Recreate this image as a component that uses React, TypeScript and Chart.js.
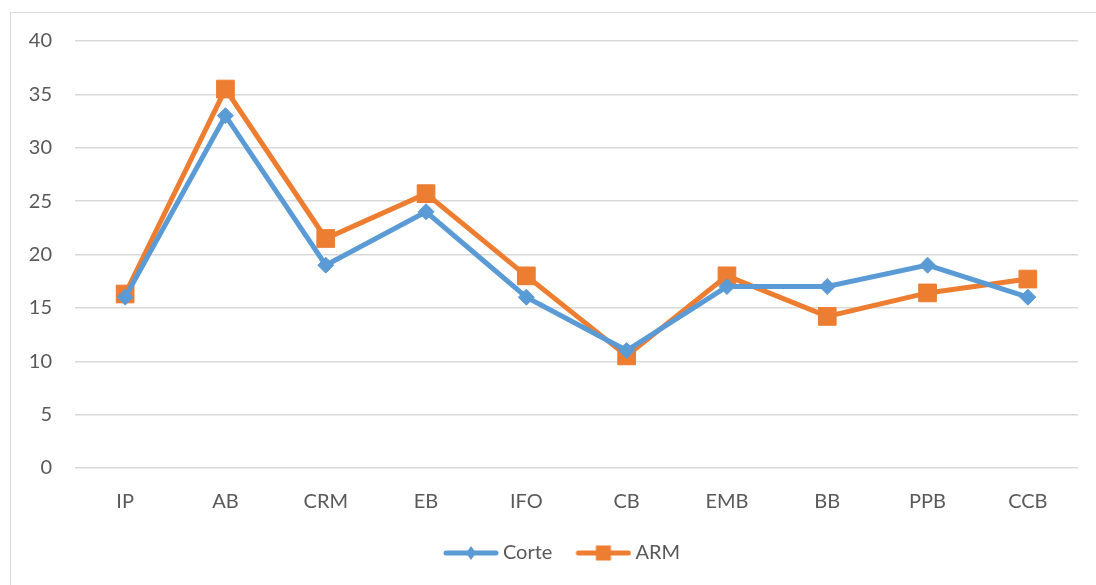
import React, { useEffect, useRef } from "react";
import { Chart, registerables } from "chart.js";

Chart.register(...registerables);

const categories = ["IP", "AB", "CRM", "EB", "IFO", "CB", "EMB", "BB", "PPB", "CCB"];
const corteValues = [16, 33, 19, 24, 16, 11, 17, 17, 19, 16];
const armValues = [16.3, 35.5, 21.5, 25.7, 18, 10.5, 18, 14.2, 16.4, 17.7];
const seriesNames = ["Corte", "ARM"];

const BLUE = "#5B9BD5";
const ORANGE = "#ED7D31";
const FONT = "Lato, 'Open Sans', sans-serif";
const TEXT = "#595959";

// legend icon: 80px wide canvas, visible line+marker in its right 56px
function makeLegendIcon(color: string, marker: "diamond" | "square") {
  const c = document.createElement("canvas");
  c.width = 80;
  c.height = 20;
  const ctx = c.getContext("2d")!;
  const x0 = 24;
  ctx.strokeStyle = color;
  ctx.lineWidth = 5;
  ctx.lineCap = "round";
  ctx.beginPath();
  ctx.moveTo(x0 + 3, 10);
  ctx.lineTo(x0 + 53, 10);
  ctx.stroke();
  ctx.fillStyle = color;
  const cx = x0 + 28;
  if (marker === "square") {
    ctx.fillRect(cx - 7.5, 10 - 7.5, 15, 15);
  } else {
    ctx.beginPath();
    ctx.moveTo(cx, 3);
    ctx.lineTo(cx + 5, 10);
    ctx.lineTo(cx, 17);
    ctx.lineTo(cx - 5, 10);
    ctx.closePath();
    ctx.fill();
  }
  return c;
}

export default function App() {
  const ref = useRef<HTMLCanvasElement | null>(null);

  useEffect(() => {
    if (!ref.current) return;
    const icons = [makeLegendIcon(BLUE, "diamond"), makeLegendIcon(ORANGE, "square")];
    const chart = new Chart(ref.current, {
      type: "line",
      data: {
        labels: categories,
        datasets: [
          {
            label: seriesNames[0],
            data: corteValues,
            borderColor: BLUE,
            backgroundColor: BLUE,
            borderWidth: 5,
            pointStyle: "rectRot",
            pointRadius: 8,
            pointBorderWidth: 1,
            pointBackgroundColor: BLUE,
            pointBorderColor: BLUE,
            tension: 0,
          },
          {
            label: seriesNames[1],
            data: armValues,
            borderColor: ORANGE,
            backgroundColor: ORANGE,
            borderWidth: 5,
            pointStyle: "rect",
            pointRadius: 12.5,
            pointBorderWidth: 1,
            pointBackgroundColor: ORANGE,
            pointBorderColor: ORANGE,
            tension: 0,
          },
        ],
      },
      options: {
        responsive: false,
        animation: false,
        layout: { padding: { left: 27, right: 18, top: 41, bottom: 12 } },
        scales: {
          x: {
            offset: true,
            grid: { display: false, drawTicks: false },
            border: { display: false },
            ticks: { padding: 22, color: TEXT, font: { family: FONT, size: 20 } },
            afterFit: (s: any) => {
              s.height = 70;
            },
          },
          y: {
            min: 0,
            max: 40,
            ticks: { stepSize: 5, padding: 23, color: TEXT, font: { family: FONT, size: 20 } },
            grid: { color: "#d9d9d9", lineWidth: 1.5, drawTicks: false },
            border: { display: false },
            afterFit: (s: any) => {
              s.width = 48;
            },
          },
        },
        plugins: {
          tooltip: { enabled: false },
          legend: {
            position: "bottom",
            labels: {
              usePointStyle: true,
              pointStyleWidth: 68,
              padding: 5,
              color: TEXT,
              font: { family: FONT, size: 20 },
              generateLabels: (ch: any) => {
                const items = (Chart as any).defaults.plugins.legend.labels.generateLabels(ch);
                return items.map((it: any, i: number) => ({ ...it, pointStyle: icons[i] }));
              },
            },
          },
        },
      },
    });
    return () => chart.destroy();
  }, []);

  return (
    <div style={{ position: "fixed", left: 0, top: 0, width: 1096, height: 585, overflow: "hidden", background: "#fff" }}>
      <div
        style={{
          position: "absolute",
          left: 10,
          top: 12,
          width: 1200,
          height: 700,
          border: "1px solid #d9d9d9",
          boxSizing: "border-box",
        }}
      />
      <canvas
        ref={ref}
        width={1096}
        height={585}
        style={{ position: "absolute", left: 0, top: 0, width: 1096, height: 585 }}
      />
    </div>
  );
}
